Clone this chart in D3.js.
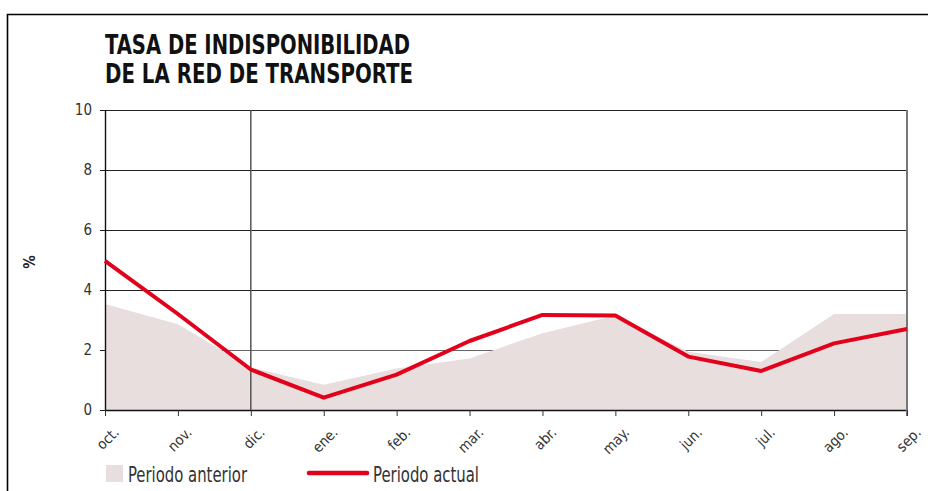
<!DOCTYPE html>
<html>
<head>
<meta charset="utf-8">
<script src="https://cdn.jsdelivr.net/npm/d3@7"></script>
<style>
  html, body { margin: 0; padding: 0; background: #fff; }
  svg { display: block; }
  text { font-family: "Liberation Sans Narrow", "DejaVu Sans Condensed", "Roboto", sans-serif; }
</style>
</head>
<body>
<svg id="chart" width="928" height="491"></svg>
<script>
// Monthly unavailability rate of the transmission network (%)
const months = ["oct.", "nov.", "dic.", "ene.", "feb.", "mar.", "abr.", "may.", "jun.", "jul.", "ago.", "sep."];
const previousPeriod = [3.53, 2.86, 1.42, 0.84, 1.38, 1.72, 2.56, 3.15, 1.94, 1.6, 3.2, 3.2];
const currentPeriod  = [4.97, 3.2, 1.35, 0.41, 1.18, 2.3, 3.17, 3.15, 1.78, 1.3, 2.22, 2.7];
const yTicks = [0, 2, 4, 6, 8, 10];
const titleLines = ["TASA DE INDISPONIBILIDAD", "DE LA RED DE TRANSPORTE"];
const legendLabels = ["Periodo anterior", "Periodo actual"];
const markerMonth = "dic.";

const svg = d3.select("#chart");
const plotLeft = 105, plotRight = 907, plotTop = 110, plotBottom = 410;

const x = d3.scalePoint().domain(months).range([plotLeft, plotRight]);
const y = d3.scaleLinear().domain([0, 10]).range([plotBottom, plotTop]);

// outer frame (top and left edges)
svg.append("path")
  .attr("d", "M7.5,491 L7.5,14.5 L928,14.5")
  .attr("fill", "none").attr("stroke", "#000").attr("stroke-width", 1.6);

// title
svg.selectAll("text.title").data(titleLines).join("text")
  .attr("class", "title")
  .attr("x", 105).attr("y", (d, i) => 54 + i * 29)
  .attr("font-size", 27).attr("font-weight", "bold").attr("fill", "#111")
  .attr("textLength", (d, i) => i === 0 ? 305 : 308)
  .attr("lengthAdjust", "spacingAndGlyphs")
  .text(d => d);

// horizontal grid + y axis
const yAxis = svg.append("g")
  .attr("transform", `translate(${plotLeft},0)`)
  .call(d3.axisLeft(y).tickValues(yTicks).tickSize(5).tickPadding(8).tickFormat(d3.format("d")));
yAxis.select(".domain").remove();
yAxis.selectAll("text").attr("font-size", 15).attr("fill", "#333")
  .attr("font-family", "'Liberation Sans Narrow', 'DejaVu Sans Condensed', sans-serif");
yAxis.selectAll(".tick line").attr("stroke", "#222");

svg.append("g").selectAll("line").data(yTicks).join("line")
  .attr("x1", plotLeft).attr("x2", plotRight)
  .attr("y1", d => Math.round(y(d)) + 0.5).attr("y2", d => Math.round(y(d)) + 0.5)
  .attr("stroke", d => d === 2 ? "#666" : "#222").attr("stroke-width", 1.2);

// previous period area
svg.append("path")
  .datum(previousPeriod)
  .attr("fill", "#e7dedd")
  .attr("d", d3.area().x((d, i) => x(months[i])).y0(y(0)).y1(d => y(d)));

// baseline and axis lines
svg.append("line").attr("x1", plotLeft).attr("x2", plotRight)
  .attr("y1", y(0) + 0.5).attr("y2", y(0) + 0.5).attr("stroke", "#111").attr("stroke-width", 1.4);
svg.append("line").attr("x1", plotLeft + 0.5).attr("x2", plotLeft + 0.5)
  .attr("y1", y(10)).attr("y2", y(0)).attr("stroke", "#111").attr("stroke-width", 1.4);
svg.append("line").attr("x1", plotRight).attr("x2", plotRight)
  .attr("y1", y(10)).attr("y2", y(0) + 6).attr("stroke", "#777").attr("stroke-width", 2);
svg.append("line").attr("x1", x(markerMonth)).attr("x2", x(markerMonth))
  .attr("y1", y(10)).attr("y2", y(0)).attr("stroke", "#555").attr("stroke-width", 1.5);

// x axis ticks and rotated labels
const xAxis = svg.append("g")
  .attr("transform", `translate(0,${plotBottom})`)
  .call(d3.axisBottom(x).tickSize(6).tickSizeOuter(0));
xAxis.select(".domain").remove();
xAxis.selectAll(".tick line").attr("stroke", "#333");
xAxis.selectAll("text")
  .attr("font-size", 14.5).attr("fill", "#333")
  .attr("font-family", "'Liberation Sans Narrow', 'DejaVu Sans Condensed', sans-serif")
  .attr("text-anchor", "end")
  .attr("dy", null)
  .attr("transform", "translate(8,17) rotate(-45)");

// current period line
svg.append("path")
  .datum(currentPeriod)
  .attr("fill", "none").attr("stroke", "#e2001a").attr("stroke-width", 4)
  .attr("stroke-linejoin", "round")
  .attr("d", d3.line().x((d, i) => x(months[i])).y(d => y(d)));

// y axis unit label
svg.append("text")
  .attr("transform", "translate(35,262) rotate(-90)")
  .attr("text-anchor", "middle").attr("font-size", 15).attr("font-weight", "bold")
  .attr("fill", "#222").text("%");

// legend
const legend = svg.append("g");
legend.append("rect").attr("x", 106).attr("y", 465).attr("width", 17).attr("height", 17).attr("fill", "#e7dedd");
legend.append("text").attr("x", 128).attr("y", 482).attr("font-size", 21).attr("fill", "#333")
  .attr("textLength", 119).attr("lengthAdjust", "spacingAndGlyphs").text(legendLabels[0]);
legend.append("line").attr("x1", 309).attr("x2", 367).attr("y1", 473).attr("y2", 473)
  .attr("stroke", "#e2001a").attr("stroke-width", 4.5).attr("stroke-linecap", "round");
legend.append("text").attr("x", 373).attr("y", 482).attr("font-size", 21).attr("fill", "#333")
  .attr("textLength", 106).attr("lengthAdjust", "spacingAndGlyphs").text(legendLabels[1]);
</script>
</body>
</html>
